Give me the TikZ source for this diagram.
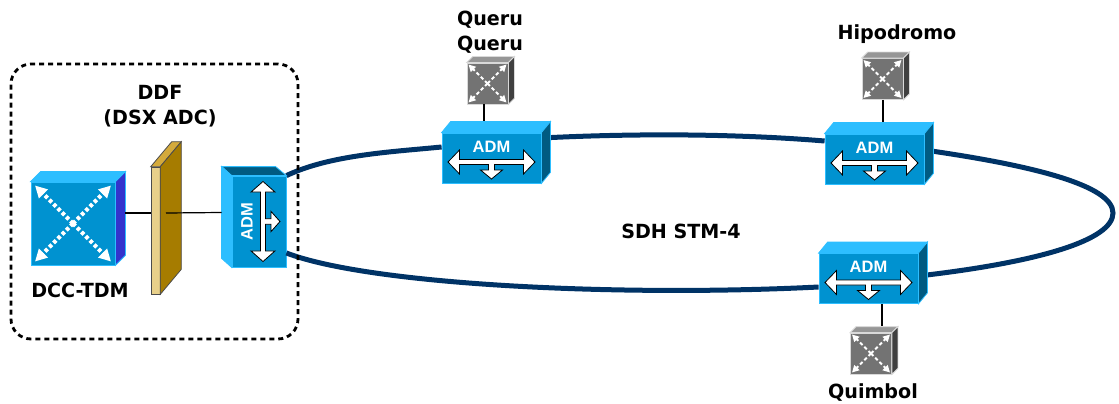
\documentclass[tikz,border=0pt]{standalone}
\usepackage{fontspec}
\setmainfont[FakeStretch=0.98]{DejaVu Sans}
\newfontfamily\admfont{Liberation Sans}
\usetikzlibrary{arrows.meta,calc,positioning}
\definecolor{admblue}{RGB}{0,146,208}
\definecolor{admlight}{RGB}{45,190,255}
\definecolor{admdark}{RGB}{0,91,130}
\definecolor{ringblue}{RGB}{0,51,102}
\definecolor{dccviolet}{RGB}{51,51,204}
\definecolor{swgray}{RGB}{115,115,115}
\definecolor{swtop}{RGB}{150,150,150}
\definecolor{swside}{RGB}{64,64,64}
\definecolor{ddffront}{RGB}{232,208,138}
\definecolor{ddftop}{RGB}{212,170,60}
\definecolor{ddfside}{RGB}{166,124,0}
\tikzset{
    % front faces
    admfront/.style={
        rectangle, draw=admlight, fill=admblue, line width=0.8pt,
        minimum width=99pt, minimum height=50pt, inner sep=0pt
    },
    admupright/.style={
        admfront, minimum width=54pt, minimum height=91pt
    },
    dccfront/.style={
        admfront, minimum width=84pt, minimum height=83pt
    },
    swfront/.style={
        rectangle, draw=black!15, fill=swgray, line width=0.8pt,
        minimum width=41pt, minimum height=41pt, inner sep=0pt
    },
    ddfpanel/.style={
        rectangle, draw=black!70, fill=ddffront, line width=0.6pt,
        minimum width=9pt, minimum height=127pt, inner sep=0pt
    },
    title/.style={font=\bfseries\fontsize{19.5}{25}\selectfont, align=center},
    admlabel/.style={font=\admfont\bfseries\fontsize{16.5}{17}\selectfont, text=white},
    ringline/.style={line width=5pt, color=ringblue},
    stub/.style={line width=1.2pt, color=black},
    arrowshape/.style={fill=white, draw=black, line width=0.8pt, line join=miter},
    crossline/.style={white, dash pattern=on 3.5pt off 2.5pt}
}
% top and side faces of a box: name, depth, rise, top colour, side colour, edge colour
\newcommand{\boxfaces}[6]{
    \draw[draw=#6, fill=#4, line width=0.8pt] (#1.north west) -- ++(#2,-#3) -- ($(#1.north east)+(#2,-#3)$) -- (#1.north east) -- cycle;
    \draw[draw=#6, fill=#5, line width=0.8pt] (#1.north east) -- ++(#2,-#3) -- ($(#1.south east)+(#2,-#3)$) -- (#1.south east) -- cycle;
    \coordinate (#1-side) at ($(#1.east)+(#2,-#3)$);
}
% the dashed cross of a switch: name, half size, line width, tip size
\newcommand{\swcross}[4]{
    \draw[crossline, line width=#3, -{Triangle[length=#4,width=#4]}] (#1.center) -- ++(#2,#2);
    \draw[crossline, line width=#3, -{Triangle[length=#4,width=#4]}] (#1.center) -- ++(-#2,#2);
    \draw[crossline, line width=#3, -{Triangle[length=#4,width=#4]}] (#1.center) -- ++(#2,-#2);
    \draw[crossline, line width=#3, -{Triangle[length=#4,width=#4]}] (#1.center) -- ++(-#2,-#2);
}
% the three headed arrow of an ADM
\newcommand{\admarrow}[2]{
    \draw[arrowshape, shift={(#1.center)}, #2]
        (-43.5,4) -- (-32,-8) -- (-32,1.5) -- (32,1.5) -- (32,-8) -- (43.5,4) -- (32,16) -- (32,6.5)
        -- (3,6.5) -- (3,12) -- (11,12) -- (0,21) -- (-11,12) -- (-3,12) -- (-3,6.5)
        -- (-32,6.5) -- (-32,16) -- cycle;
}
\begin{document}
\begin{tikzpicture}[x=1pt,y=-1pt]
\useasboundingbox (0,0) rectangle (1119,404);

% front faces
\node[admupright] (admddf) at (259,221.5) {};
\node[admfront] (admqueru) at (491.5,158) {};
\node[admfront] (admhipo) at (874.5,159) {};
\node[admfront] (admquim) at (868.5,278.5) {};
\node[dccfront] (dcc) at (73,223.5) {};
\node[ddfpanel] (ddf) at (155.5,230.5) {};
\node[swfront] (swqueru) at (487.5,83.5) {};
\node[swfront] (swhipo) at (882.5,79) {};
\node[swfront] (swquim) at (871,353.5) {};

% ring
\draw[ringline] (admddf.north east) .. controls (330,155) and (390,152) .. (admqueru.west |- 0,147);
\draw[ringline] (admqueru.east |- 0,138) .. controls (640,133) and (740,134) .. (admhipo.west |- 0,141);
\draw[ringline] (admhipo.east |- 0,150) .. controls (1030,165) and (1113,185) .. (1113,213) .. controls (1113,240) and (1040,262) .. (admquim.east |- 0,276);
\draw[ringline] (admquim.west |- 0,287) .. controls (620,297) and (370,285) .. (admddf.east |- 0,253);

% stubs to the switches
\coordinate (tapqueru) at (484,110);
\coordinate (taphipo) at (883,110);
\coordinate (tapquim) at (882,320);
\draw[stub] (tapqueru |- swqueru.south) -- (tapqueru |- admqueru.north);
\draw[stub] (taphipo |- swhipo.south) -- (taphipo |- admhipo.north);
\draw[stub] (tapquim |- admquim.south) -- (tapquim |- swquim.north);

% boxes
\boxfaces{admqueru}{9}{11}{admlight}{admdark}{admlight}
\boxfaces{admhipo}{9}{11}{admlight}{admdark}{admlight}
\boxfaces{admquim}{9}{11}{admlight}{admdark}{admlight}
\boxfaces{dcc}{10}{10}{admlight}{dccviolet}{admlight}
\boxfaces{swqueru}{6}{6}{swtop}{swside}{black!15}
\boxfaces{swhipo}{6}{6}{swtop}{swside}{black!15}
\boxfaces{swquim}{6}{6}{swtop}{swside}{black!15}
\boxfaces{ddf}{21}{25}{ddftop}{ddfside}{black!70}
% upright ADM has its depth on the left
\draw[draw=admlight, fill=admdark, line width=0.8pt] (admddf.north west) -- ++(-10,-9) -- ++(54,0) -- (admddf.north east) -- cycle;
\draw[draw=admlight, fill=admlight, line width=0.8pt] (admddf.north west) -- ++(-10,-9) -- ($(admddf.south west)+(-10,-9)$) -- (admddf.south west) -- cycle;
\coordinate (admddf-side) at ($(admddf.west)+(-10,-9)$);
\coordinate (ddf-hole) at ($(ddf.center)+(10.5,-17.5)$);

% arrows and crosses
\admarrow{admqueru}{}
\admarrow{admhipo}{}
\admarrow{admquim}{}
\admarrow{admddf}{rotate=90, xscale=0.92}
\swcross{dcc}{38}{4.2pt}{12pt}
\swcross{swqueru}{19}{2pt}{7pt}
\swcross{swhipo}{19}{2pt}{7pt}
\swcross{swquim}{19}{2pt}{7pt}

% labels
\node[admlabel, above=2pt of admqueru.center] (lblqueru) {ADM};
\node[admlabel, above=2pt of admhipo.center] (lblhipo) {ADM};
\node[admlabel, above=2pt of admquim.center] (lblquim) {ADM};
\node[admlabel, rotate=90] (lblddf) at (247,222) {ADM};
\node[title] (tddf) at (160,106) {DDF\\(DSX ADC)};
\node[title] (tdcc) at (80,290) {DCC-TDM};
\node[title] (tqueru) at (490,32) {Queru\\Queru};
\node[title] (thipo) at (897,34) {Hipodromo};
\node[title] (tquim) at (873,393) {Quimbol};
\node[title] (tsdh) at (681,231) {SDH STM-4};

% stubs in the site
\draw[stub] (dcc-side |- ddf-hole) -- (ddf.west |- ddf-hole);
\draw[stub] (ddf-hole) -- (admddf-side);

% site frame
\node[draw, line width=2.8pt, dash pattern=on 5pt off 4pt, rounded corners=20pt, minimum width=287pt, minimum height=275pt] (site) at (154.5,201.5) {};

\end{tikzpicture}
\end{document}
